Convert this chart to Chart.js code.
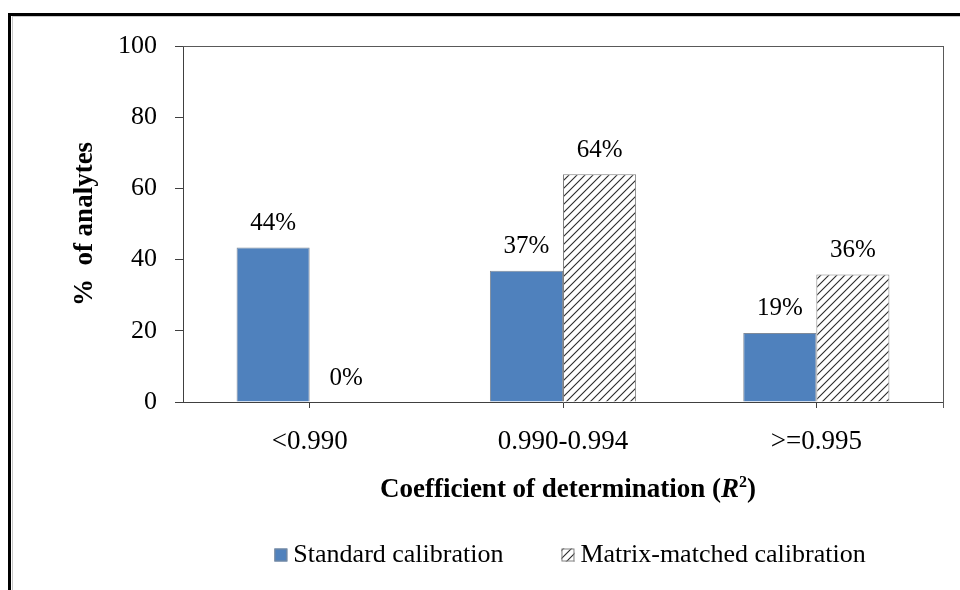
<!DOCTYPE html>
<html lang="en">
  <head>
    <meta charset="UTF-8" />
    <meta name="viewport" content="width=device-width, initial-scale=1.0" />
    <script src="https://cdn.jsdelivr.net/npm/chart.js"></script>
    <title>Coefficient of determination</title>
    <style>
      body { margin: 0; background: #fff; overflow: hidden; }
      #frame { position: absolute; left: 8px; top: 13px; width: 1000px; height: 650px; border-left: 3px solid #000; border-top: 3px solid #000; }
      #inner { position: absolute; left: 12px; top: 16px; width: 1000px; height: 650px; border-left: 1px solid #c8c8c8; border-top: 1px solid #c8c8c8; }
      #myChart { position: absolute; left: 0; top: 0; }
    </style>
  </head>
  <body>
    <div id="frame"></div>
    <div id="inner"></div>
    <canvas id="myChart" width="960" height="590"></canvas>

    <script>
      // values
      const categories = ["<0.990", "0.990-0.994", ">=0.995"];
      const standardValues = [43.4, 36.9, 19.4];
      const matrixValues = [0, 64.0, 35.8];
      const standardLabels = ["44%", "37%", "19%"];
      const matrixLabels = ["0%", "64%", "36%"];
      const yTicks = [0, 20, 40, 60, 80, 100];

      const serif = '"Liberation Serif", "Times New Roman", serif';

      // diagonal hatch for the matrix-matched bars
      function makeHatch() {
        const c = document.createElement("canvas");
        c.width = 8;
        c.height = 8;
        const g = c.getContext("2d");
        g.fillStyle = "#fff";
        g.fillRect(0, 0, 8, 8);
        g.strokeStyle = "#2a2a2a";
        g.lineWidth = 1.1;
        g.beginPath();
        g.moveTo(0, 8); g.lineTo(8, 0);
        g.moveTo(-1, 1); g.lineTo(1, -1);
        g.moveTo(7, 9); g.lineTo(9, 7);
        g.stroke();
        return g.createPattern(c, "repeat");
      }
      const hatch = makeHatch();

      // percent labels above each bar
      const barLabels = {
        id: "barLabels",
        afterDatasetsDraw(chart) {
          const ctx = chart.ctx;
          ctx.save();
          ctx.font = "25px " + serif;
          ctx.fillStyle = "#000";
          ctx.textAlign = "center";
          ctx.textBaseline = "middle";
          chart.data.datasets.forEach((ds, i) => {
            chart.getDatasetMeta(i).data.forEach((bar, j) => {
              ctx.fillText(ds.valueLabels[j], bar.x, bar.y - 24);
            });
          });
          ctx.restore();
        },
      };

      // top and right edges of the plot box, x title and legend
      const extras = {
        id: "extras",
        afterDraw(chart) {
          const ctx = chart.ctx;
          const a = chart.chartArea;
          ctx.save();
          ctx.strokeStyle = "#595959";
          ctx.lineWidth = 1;
          ctx.beginPath();
          ctx.moveTo(Math.round(a.left), Math.round(a.top) + 0.5);
          ctx.lineTo(Math.round(a.right), Math.round(a.top) + 0.5);
          ctx.moveTo(Math.round(a.right) + 0.5, Math.round(a.top));
          ctx.lineTo(Math.round(a.right) + 0.5, Math.round(a.bottom) + 6);
          ctx.stroke();

          // x axis title with italic R and superscript 2
          const parts = [
            ["Coefficient of determination (", "bold 27px " + serif, 0],
            ["R", "italic bold 27px " + serif, 0],
            ["2", "bold 16px " + serif, -7],
            [")", "bold 27px " + serif, 0],
          ];
          let total = 0;
          parts.forEach((p) => { ctx.font = p[1]; total += ctx.measureText(p[0]).width; });
          let x = (a.left + a.right) / 2 + 5 - total / 2;
          const ty = 490;
          ctx.fillStyle = "#000";
          ctx.textBaseline = "middle";
          ctx.textAlign = "left";
          parts.forEach((p) => {
            ctx.font = p[1];
            ctx.fillText(p[0], x, ty + p[2]);
            x += ctx.measureText(p[0]).width;
          });

          // legend
          ctx.font = "26px " + serif;
          const box = 13, gap = 6, between = 58;
          const items = chart.data.datasets.map((ds) => ({ ds, w: ctx.measureText(ds.label).width }));
          let width = 0;
          items.forEach((it, i) => { width += box + gap + it.w + (i ? between : 0); });
          let lx = 570 - width / 2;
          const ly = 555;
          items.forEach((it) => {
            ctx.fillStyle = it.ds.backgroundColor;
            ctx.fillRect(lx, ly - box / 2, box, box);
            ctx.strokeStyle = it.ds.borderColor;
            ctx.strokeRect(lx + 0.5, ly - box / 2 + 0.5, box - 1, box - 1);
            ctx.fillStyle = "#000";
            ctx.fillText(it.ds.label, lx + box + gap, ly);
            lx += box + gap + it.w + between;
          });
          ctx.restore();
        },
      };

      const data = {
        labels: categories,
        datasets: [
          {
            label: "Standard calibration",
            data: standardValues,
            valueLabels: standardLabels,
            backgroundColor: "#4f81bd",
            borderColor: "#7f8a99",
            borderWidth: 1,
          },
          {
            label: "Matrix-matched calibration",
            data: matrixValues,
            valueLabels: matrixLabels,
            backgroundColor: hatch,
            borderColor: "#808080",
            borderWidth: 1,
          },
        ],
      };

      const config = {
        type: "bar",
        data: data,
        plugins: [barLabels, extras],
        options: {
          responsive: false,
          animation: false,
          devicePixelRatio: 1,
          layout: { padding: { left: 60, top: 46, right: 17, bottom: 128 } },
          datasets: { bar: { barPercentage: 1, categoryPercentage: 0.577 } },
          scales: {
            x: {
              afterFit(scale) { scale.height = 60; },
              grid: { offset: false, drawOnChartArea: false, tickLength: 6, color: "#404040" },
              border: { color: "#404040" },
              ticks: { padding: 18, color: "#000", font: { family: serif, size: 27 } },
            },
            y: {
              min: 0,
              max: 100,
              afterFit(scale) { scale.width = 123; },
              afterBuildTicks(scale) { scale.ticks = yTicks.map((v) => ({ value: v })); },
              grid: { drawOnChartArea: false, tickLength: 8, color: "#404040" },
              border: { color: "#404040" },
              ticks: { padding: 18, color: "#000", font: { family: serif, size: 26 } },
              title: {
                display: true,
                text: "%  of analytes",
                color: "#000",
                font: { family: serif, size: 27, weight: "bold" },
                padding: { top: 9, bottom: 0 },
              },
            },
          },
          plugins: {
            legend: { display: false },
            tooltip: { enabled: false },
          },
        },
      };

      new Chart(document.getElementById("myChart"), config);
    </script>
  </body>
</html>
